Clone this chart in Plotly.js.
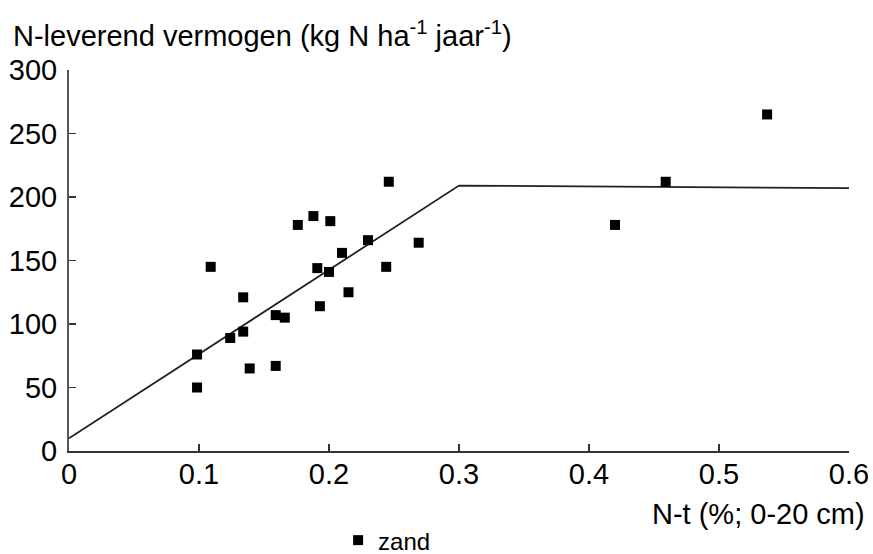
<!DOCTYPE html>
<html>
<head>
<meta charset="utf-8">
<script src="https://cdn.plot.ly/plotly-3.0.1.min.js"></script>
<style>html,body{margin:0;padding:0;background:#fff;}#chart{width:873px;height:554px;}</style>
</head>
<body>
<div id="chart"></div>
<script>
// Measured points (zand)
const ntX = [0.0985, 0.0985, 0.109, 0.124, 0.134, 0.134, 0.139, 0.159, 0.159, 0.166, 0.176, 0.188, 0.191, 0.193, 0.200, 0.201, 0.210, 0.215, 0.230, 0.244, 0.246, 0.269, 0.420, 0.459, 0.537];
const nlvY = [76, 50, 145, 89, 121, 94, 65, 67, 107, 105, 178, 185, 144, 114, 141, 181, 156, 125, 166, 145, 212, 164, 178, 212, 265];
// Fitted broken-line model
const fitX = [0, 0.3, 0.6];
const fitY = [10, 209, 207];
const xTicks = [0, 0.1, 0.2, 0.3, 0.4, 0.5, 0.6];
const xTickText = ['0', '0.1', '0.2', '0.3', '0.4', '0.5', '0.6'];
const yTicks = [0, 50, 100, 150, 200, 250, 300];
const yTickText = ['0', '50', '100', '150', '200', '250', '300'];

const FONT = 'Arial, "Liberation Sans", Helvetica, sans-serif';
const FS = 29;

const traces = [
  {x: fitX, y: fitY, mode: 'lines', type: 'scatter', showlegend: false,
   line: {color: '#222', width: 1.8}, hoverinfo: 'skip'},
  {x: ntX, y: nlvY, mode: 'markers', type: 'scatter', name: 'zand',
   marker: {symbol: 'square', size: 10, color: '#000'}}
];

const layout = {
  width: 873, height: 554,
  margin: {l: 69, r: 24, t: 70, b: 103, autoexpand: false},
  paper_bgcolor: '#fff', plot_bgcolor: '#fff',
  font: {family: FONT, color: '#000', size: FS},
  xaxis: {range: [0, 0.6], tickvals: xTicks, ticktext: xTickText,
    showgrid: false, zeroline: false, showline: true, linecolor: '#333', linewidth: 2,
    ticks: 'inside', ticklen: 7, tickwidth: 1.5, tickcolor: '#333',
    ticklabelstandoff: -4, tickfont: {size: FS, family: FONT, color: '#000'}, fixedrange: true},
  yaxis: {range: [0, 300], tickvals: yTicks, ticktext: yTickText,
    showgrid: false, zeroline: false, showline: true, linecolor: '#555', linewidth: 2,
    ticks: 'inside', ticklen: 7, tickwidth: 1.5, tickcolor: '#333',
    ticklabelstandoff: 4, tickfont: {size: FS, family: FONT, color: '#000'}, fixedrange: true},
  showlegend: true,
  legend: {x: 0.345, xanchor: 'left', y: -0.235, yanchor: 'middle', orientation: 'h',
    font: {size: 24, family: FONT, color: '#000'}, bgcolor: 'rgba(0,0,0,0)', itemwidth: 30},
  annotations: [
    {text: 'N-leverend vermogen (kg N ha<sup>-1</sup> jaar<sup>-1</sup>)', xref: 'paper', yref: 'paper',
     x: -0.075, y: 1.095, xanchor: 'left', yanchor: 'middle', showarrow: false,
     font: {size: FS, family: FONT, color: '#000'}},
    {text: 'N-t (%; 0-20 cm)', xref: 'paper', yref: 'paper', x: 1.023, y: -0.165, xanchor: 'right',
     yanchor: 'middle', showarrow: false, font: {size: FS, family: FONT, color: '#000'}}
  ]
};

Plotly.newPlot('chart', traces, layout, {displayModeBar: false, staticPlot: true});
</script>
</body>
</html>
